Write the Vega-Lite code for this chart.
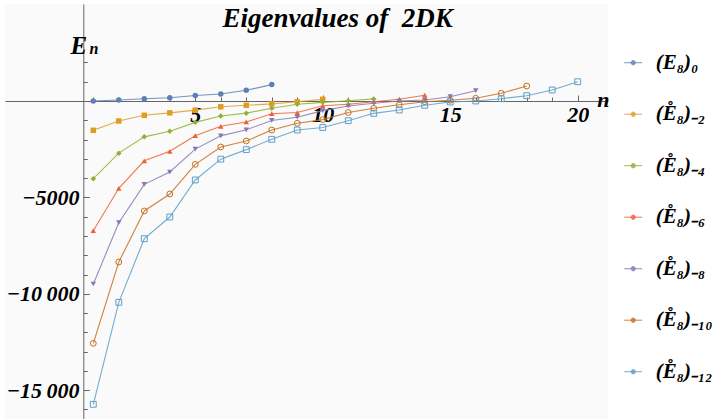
{
  "$schema": "https://vega.github.io/schema/vega-lite/v6.json",
  "width": 603,
  "height": 415,
  "autosize": {"type": "none"},
  "padding": {"left": 5, "top": 4, "right": 112, "bottom": 0},
  "background": "white",
  "config": {"view": {"fill": "#fafafa", "stroke": null}, "font": "Liberation Serif"},
  "resolve": {"axis": {"x": "independent", "y": "independent"}},
  "datasets": {
    "ev": [
      {"s":"k0","n":1,"E":0},{"s":"k0","n":2,"E":50},{"s":"k0","n":3,"E":120},{"s":"k0","n":4,"E":170},{"s":"k0","n":5,"E":285},{"s":"k0","n":6,"E":360},{"s":"k0","n":7,"E":555},{"s":"k0","n":8,"E":850},
      {"s":"k2","n":1,"E":-1520},{"s":"k2","n":2,"E":-1037},{"s":"k2","n":3,"E":-742},{"s":"k2","n":4,"E":-615},{"s":"k2","n":5,"E":-475},{"s":"k2","n":6,"E":-300},{"s":"k2","n":7,"E":-223},{"s":"k2","n":8,"E":-150},{"s":"k2","n":9,"E":-40},{"s":"k2","n":10,"E":85},
      {"s":"k4","n":1,"E":-4030},{"s":"k4","n":2,"E":-2705},{"s":"k4","n":3,"E":-1860},{"s":"k4","n":4,"E":-1573},{"s":"k4","n":5,"E":-1108},{"s":"k4","n":6,"E":-778},{"s":"k4","n":7,"E":-630},{"s":"k4","n":8,"E":-380},{"s":"k4","n":9,"E":-171},{"s":"k4","n":10,"E":-70},{"s":"k4","n":11,"E":10},{"s":"k4","n":12,"E":110},
      {"s":"k6","n":1,"E":-6727},{"s":"k6","n":2,"E":-4528},{"s":"k6","n":3,"E":-3100},{"s":"k6","n":4,"E":-2609},{"s":"k6","n":5,"E":-1800},{"s":"k6","n":6,"E":-1312},{"s":"k6","n":7,"E":-1089},{"s":"k6","n":8,"E":-660},{"s":"k6","n":9,"E":-600},{"s":"k6","n":10,"E":-250},{"s":"k6","n":11,"E":-171},{"s":"k6","n":12,"E":-36},{"s":"k6","n":13,"E":88},{"s":"k6","n":14,"E":300},
      {"s":"k8","n":1,"E":-9492},{"s":"k8","n":2,"E":-6312},{"s":"k8","n":3,"E":-4322},{"s":"k8","n":4,"E":-3683},{"s":"k8","n":5,"E":-2495},{"s":"k8","n":6,"E":-1808},{"s":"k8","n":7,"E":-1495},{"s":"k8","n":8,"E":-1010},{"s":"k8","n":9,"E":-840},{"s":"k8","n":10,"E":-500},{"s":"k8","n":11,"E":-259},{"s":"k8","n":12,"E":-119},{"s":"k8","n":13,"E":0},{"s":"k8","n":14,"E":52},{"s":"k8","n":15,"E":223},{"s":"k8","n":16,"E":534},
      {"s":"k10","n":1,"E":-12568},{"s":"k10","n":2,"E":-8351},{"s":"k10","n":3,"E":-5705},{"s":"k10","n":4,"E":-4824},{"s":"k10","n":5,"E":-3285},{"s":"k10","n":6,"E":-2385},{"s":"k10","n":7,"E":-2075},{"s":"k10","n":8,"E":-1504},{"s":"k10","n":9,"E":-1157},{"s":"k10","n":10,"E":-967},{"s":"k10","n":11,"E":-596},{"s":"k10","n":12,"E":-380},{"s":"k10","n":13,"E":-195},{"s":"k10","n":14,"E":-36},{"s":"k10","n":15,"E":36},{"s":"k10","n":16,"E":140},{"s":"k10","n":17,"E":399},{"s":"k10","n":18,"E":778},
      {"s":"k12","n":1,"E":-15732},{"s":"k12","n":2,"E":-10441},{"s":"k12","n":3,"E":-7142},{"s":"k12","n":4,"E":-6017},{"s":"k12","n":5,"E":-4097},{"s":"k12","n":6,"E":-3016},{"s":"k12","n":7,"E":-2523},{"s":"k12","n":8,"E":-1987},{"s":"k12","n":9,"E":-1504},{"s":"k12","n":10,"E":-1375},{"s":"k12","n":11,"E":-1022},{"s":"k12","n":12,"E":-640},{"s":"k12","n":13,"E":-467},{"s":"k12","n":14,"E":-223},{"s":"k12","n":15,"E":-52},{"s":"k12","n":16,"E":0},{"s":"k12","n":17,"E":119},{"s":"k12","n":18,"E":275},{"s":"k12","n":19,"E":571},{"s":"k12","n":20,"E":1001}
    ]
  },
  "data": {"name": "ev"},
  "layer": [
    {
      "mark": {"type": "line", "strokeWidth": 1.1, "opacity": 0.85},
      "encoding": {
        "x": {
          "field": "n", "type": "quantitative",
          "scale": {"domain": [-2.4634, 21.188], "nice": false, "zero": false},
          "axis": {
            "orient": "bottom", "offset": -318,
            "values": [5, 10, 15, 20],
            "labelOverlap": false, "labelFlush": false, "grid": false,
            "tickSize": -6,
            "tickColor": "#666", "domainColor": "#666",
            "labelPadding": 19.7, "labelBaseline": "middle",
            "labelFont": "Liberation Serif", "labelFontSize": 22, "labelFontStyle": "italic", "labelFontWeight": "bold", "labelColor": "black",
            "title": "n", "titleX": 591.7, "titleY": 5.7, "titleAlign": "left", "titleBaseline": "alphabetic", "titleAngle": 0,
            "titleFont": "Liberation Serif", "titleFontSize": 22, "titleFontStyle": "italic", "titleFontWeight": "bold", "titleColor": "black",
            "encode": {"domain": {"update": {"x": {"signal": "scale('x', 0.2)"}, "x2": {"signal": "scale('x', 20.41)"}}}}
          }
        },
        "y": {
          "field": "E", "type": "quantitative",
          "scale": {"domain": [-16494, 5031], "nice": false, "zero": false},
          "axis": {
            "orient": "left", "offset": -78.3,
            "values": [-15000, -10000, -5000],
            "labelExpr": "datum.value === -5000 ? '\u22125000' : datum.value === -10000 ? '\u221210\u2009000' : '\u221215\u2009000'",
            "labelOverlap": false, "labelFlush": false, "grid": false,
            "tickSize": -6,
            "tickColor": "#666", "domainColor": "#666",
            "labelPadding": 10.3, "labelBaseline": "middle",
            "labelFont": "Liberation Serif", "labelFontSize": 22, "labelFontStyle": "italic", "labelFontWeight": "bold", "labelColor": "black",
            "title": "E", "titleX": -13.3, "titleY": 49.3, "titleAlign": "left", "titleBaseline": "alphabetic", "titleAngle": 0,
            "titleFont": "Liberation Serif", "titleFontSize": 25, "titleFontStyle": "italic", "titleFontWeight": "bold", "titleColor": "black",
            "encode": {"domain": {"update": {"y2": {"signal": "scale('y', 2000)"}}}}
          }
        },
        "color": {
          "field": "s", "type": "nominal",
          "scale": {"domain": ["k0","k2","k4","k6","k8","k10","k12"], "range": ["#5E81B5","#E19C24","#8FB032","#EB6235","#8778B3","#C56E1A","#5D9EC7"]},
          "legend": {
            "orient": "none", "legendX": 617.7, "legendY": 48.2, "padding": 0,
            "title": null, "symbolSize": 324, "labelOffset": 12, "rowPadding": 29.5,
            "symbolType": "M-1,0H1M0.24,0A0.24,0.24,0,1,1,-0.24,0A0.24,0.24,0,1,1,0.24,0Z",
            "symbolStrokeWidth": 1,
            "labelFont": "Liberation Serif", "labelFontSize": 21, "labelFontStyle": "italic", "labelFontWeight": "bold", "labelColor": "black", "labelBaseline": "middle", "labelLimit": 0,
            "labelExpr": "{'k0':'(E\u2088)\u2080','k2':'(E\u030a\u2088)\u208b\u2082','k4':'(E\u030a\u2088)\u208b\u2084','k6':'(E\u030a\u2088)\u208b\u2086','k8':'(E\u030a\u2088)\u208b\u2088','k10':'(E\u030a\u2088)\u208b\u2081\u2080','k12':'(E\u030a\u2088)\u208b\u2081\u2082'}[datum.value]"
          }
        }
      }
    },
    {
      "transform": [{"filter": "datum.s !== 'k10' && datum.s !== 'k12'"}],
      "mark": {"type": "point", "filled": true, "size": 30, "opacity": 1},
      "encoding": {
        "x": {"field": "n", "type": "quantitative", "axis": null},
        "y": {"field": "E", "type": "quantitative", "axis": null},
        "fill": {"field": "s", "type": "nominal", "scale": {"domain": ["k0","k2","k4","k6","k8","k10","k12"], "range": ["#5E81B5","#E19C24","#8FB032","#EB6235","#8778B3","#C56E1A","#5D9EC7"]}},
        "shape": {"field": "s", "type": "nominal", "scale": {"domain": ["k12","k10","k8","k6","k4","k2","k0"], "range": ["square","circle","triangle-down","triangle-up","diamond","square","circle"]}, "legend": null}
      }
    },
    {
      "transform": [{"filter": "datum.s === 'k10' || datum.s === 'k12'"}],
      "mark": {"type": "point", "filled": false, "size": 34, "strokeWidth": 1, "opacity": 1},
      "encoding": {
        "x": {"field": "n", "type": "quantitative", "axis": null},
        "y": {"field": "E", "type": "quantitative", "axis": null},
        "stroke": {"field": "s", "type": "nominal", "scale": {"domain": ["k12","k10","k8","k6","k4","k2","k0"], "range": ["#5D9EC7","#C56E1A","#8778B3","#EB6235","#8FB032","#E19C24","#5E81B5"]}, "legend": null},
        "shape": {"field": "s", "type": "nominal", "legend": null}
      }
    },
    {
      "data": {"values": [{}]},
      "mark": {"type": "text", "text": "n", "font": "Liberation Serif", "fontSize": 16, "fontStyle": "italic", "fontWeight": "bold", "align": "left", "baseline": "alphabetic", "color": "black"},
      "encoding": {
        "x": {"datum": 0.85, "type": "quantitative", "axis": {
          "orient": "bottom", "offset": -318, "values": [1,2,3,4,6,7,8,9,11,12,13,14,16,17,18,19], "labels": false, "domain": false, "grid": false, "tickSize": -4, "tickColor": "#666",
          "title": "Eigenvalues of \u00a02DK", "titleX": 217, "titleY": -74.3, "titleAlign": "left", "titleBaseline": "alphabetic", "titleAngle": 0,
          "titleFont": "Liberation Serif", "titleFontSize": 27, "titleFontStyle": "italic", "titleFontWeight": "bold", "titleColor": "black"}},
        "y": {"datum": 2430, "type": "quantitative", "axis": {"orient": "left", "offset": -78.3, "values": [-16000,-14000,-13000,-12000,-11000,-9000,-8000,-7000,-6000,-4000,-3000,-2000,-1000,1000,2000], "labels": false, "domain": false, "grid": false, "tickSize": -4, "tickColor": "#666", "title": null}}
      }
    }
  ]
}
